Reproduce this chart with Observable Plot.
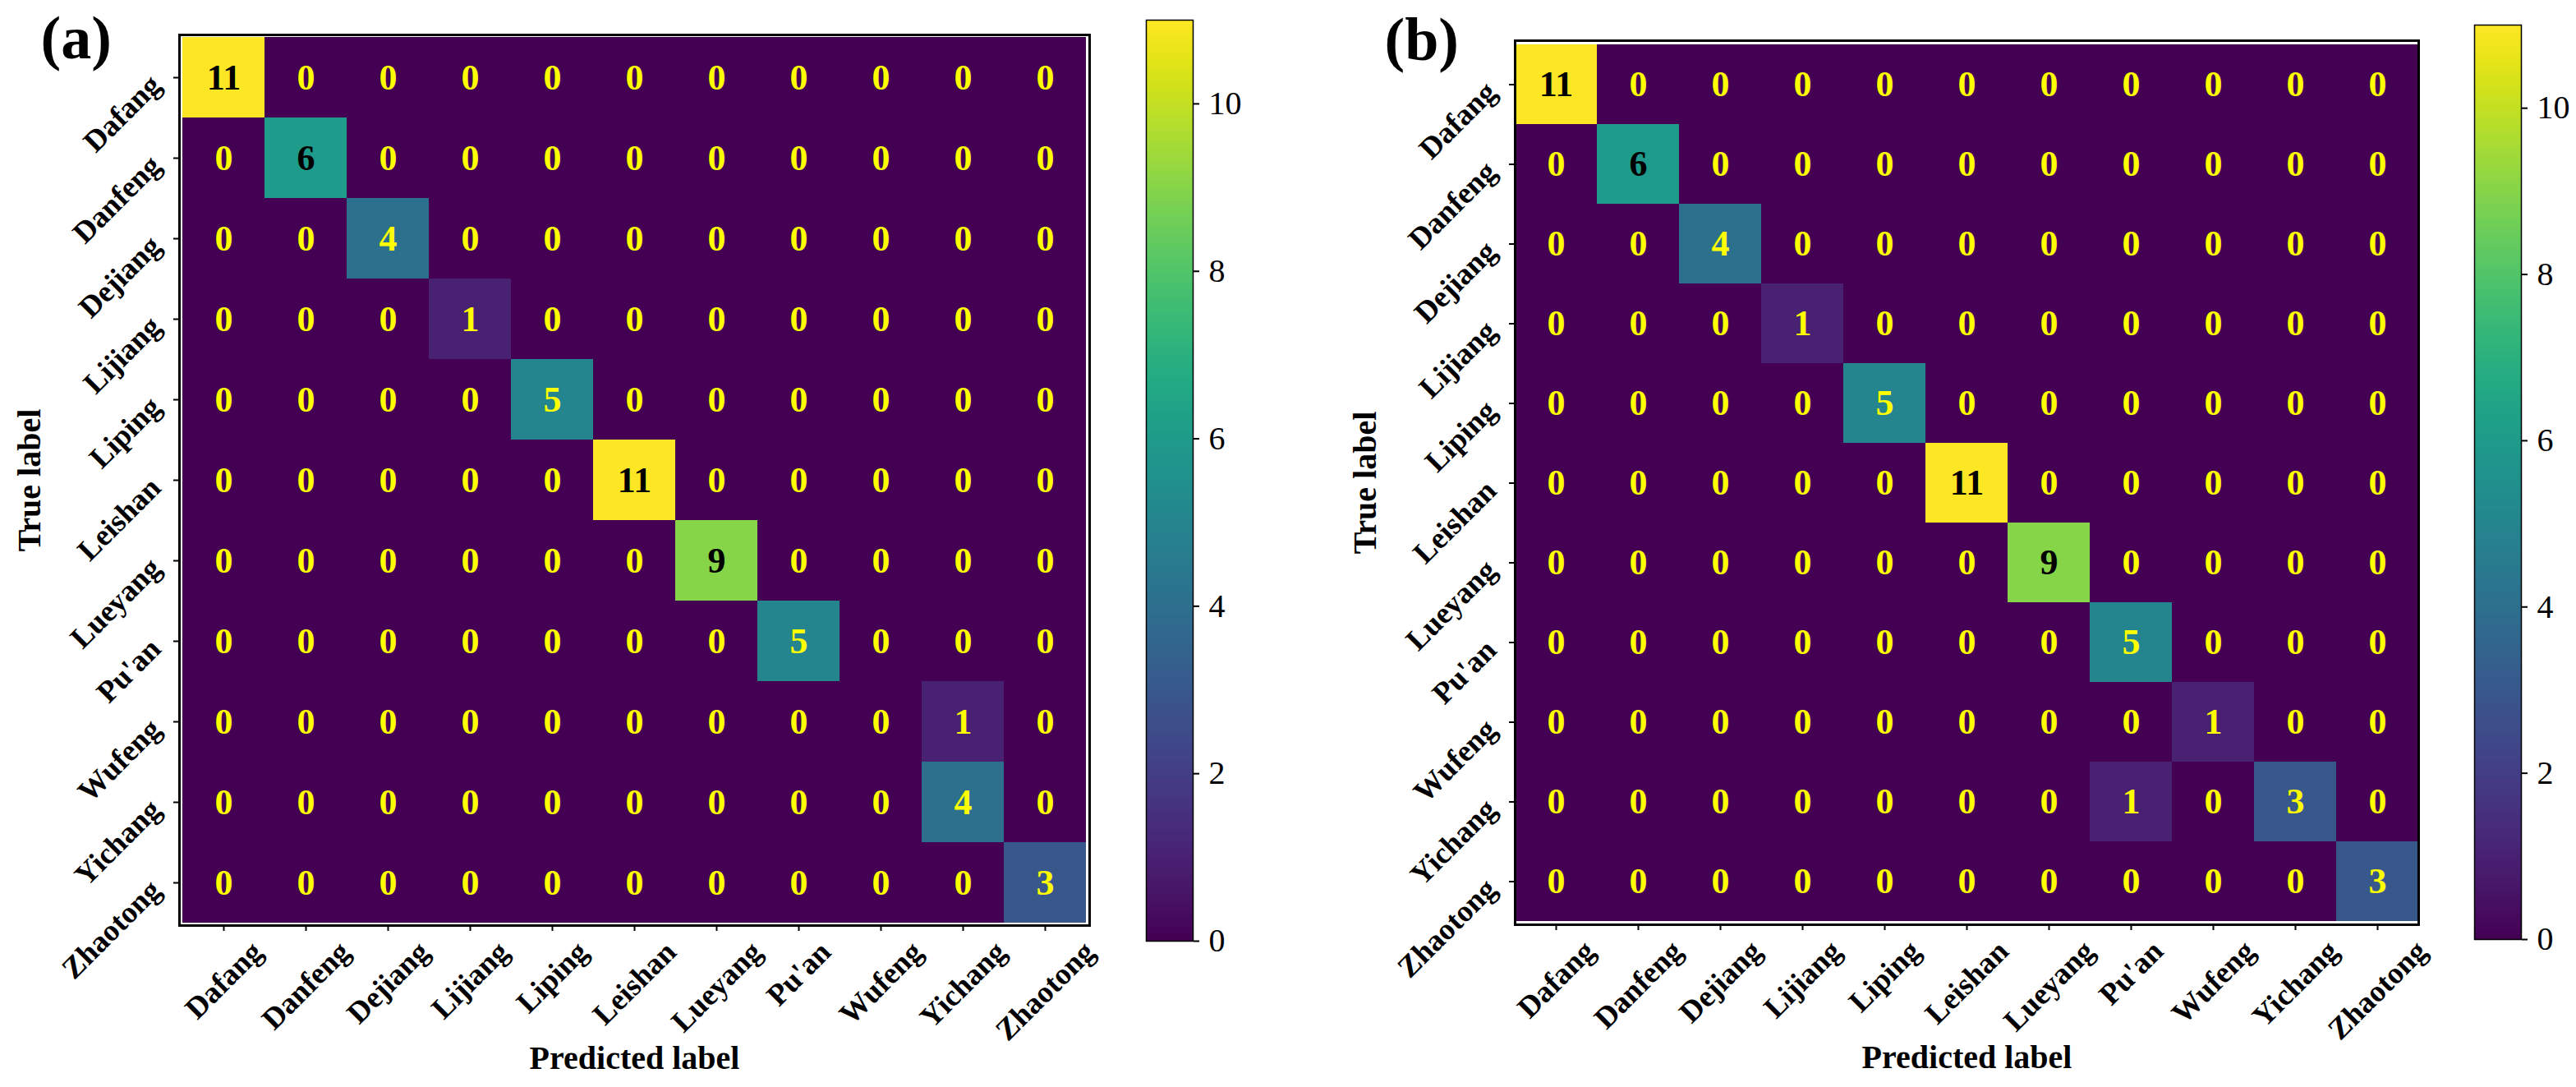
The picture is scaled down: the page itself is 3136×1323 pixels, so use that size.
<!DOCTYPE html>
<html><head><meta charset="utf-8">
<script src="https://cdn.jsdelivr.net/npm/d3@7"></script>
<script src="https://cdn.jsdelivr.net/npm/@observablehq/plot@0.6"></script>
<style>
html,body{margin:0;padding:0;background:#fff;}
#root{position:relative;width:3136px;height:1323px;overflow:hidden;background:#fff;}
#root > div{position:absolute;top:0;}
</style></head><body><div id="root"></div>
<script>
// ---- data ----
const labels = ["Dafang","Danfeng","Dejiang","Lijiang","Liping","Leishan","Lueyang","Pu'an","Wufeng","Yichang","Zhaotong"];
// rows = true label, columns = predicted label
const matrixA = [
  [11,0,0,0,0,0,0,0,0,0,0],
  [0,6,0,0,0,0,0,0,0,0,0],
  [0,0,4,0,0,0,0,0,0,0,0],
  [0,0,0,1,0,0,0,0,0,0,0],
  [0,0,0,0,5,0,0,0,0,0,0],
  [0,0,0,0,0,11,0,0,0,0,0],
  [0,0,0,0,0,0,9,0,0,0,0],
  [0,0,0,0,0,0,0,5,0,0,0],
  [0,0,0,0,0,0,0,0,0,1,0],
  [0,0,0,0,0,0,0,0,0,4,0],
  [0,0,0,0,0,0,0,0,0,0,3]
];
const matrixB = [
  [11,0,0,0,0,0,0,0,0,0,0],
  [0,6,0,0,0,0,0,0,0,0,0],
  [0,0,4,0,0,0,0,0,0,0,0],
  [0,0,0,1,0,0,0,0,0,0,0],
  [0,0,0,0,5,0,0,0,0,0,0],
  [0,0,0,0,0,11,0,0,0,0,0],
  [0,0,0,0,0,0,9,0,0,0,0],
  [0,0,0,0,0,0,0,5,0,0,0],
  [0,0,0,0,0,0,0,0,1,0,0],
  [0,0,0,0,0,0,0,1,0,3,0],
  [0,0,0,0,0,0,0,0,0,0,3]
];
const colorTicks = [0,2,4,6,8,10];
const colorMax = 11;
const panelNames = ["(a)","(b)"];
const xTitle = "Predicted label";
const yTitle = "True label";

// ---- helpers ----
const FONT = "'Liberation Serif','Times New Roman',serif";
const ctx = document.createElement("canvas").getContext("2d");
function textWidth(s, font){ ctx.font = font; return ctx.measureText(s).width; }
const colorScale = {type:"linear", scheme:"viridis", domain:[0, colorMax]};
const svgStyle = `font-family:${FONT};background:transparent;overflow:visible;max-width:none;`;

function heatmap(matrix, name, L){
  const cells = matrix.flatMap((row,i)=>row.map((v,j)=>({t:labels[i], p:labels[j], v})));
  const tf = 37;
  const xLabelMarks = labels.map(l => Plot.text([l], {
    x: d=>d, frameAnchor:"bottom", rotate:-45, textAnchor:"end", lineAnchor:"middle",
    dx: 0.3536*textWidth(l, `bold ${tf}px 'Liberation Serif'`), dy: 26,
    fontSize: tf, fontWeight:"bold", fill:"black"
  }));
  return Plot.plot({
    width: L.width, height: 1323,
    marginLeft: L.ml, marginRight: L.mr, marginTop: L.mt, marginBottom: L.mb,
    x: {domain: labels, padding: 0, axis: null},
    y: {domain: labels, padding: 0, axis: null},
    color: colorScale,
    style: svgStyle,
    marks: [
      Plot.cell(cells, {x:"p", y:"t", fill:"v", inset:0}),
      Plot.text(cells, {x:"p", y:"t", text:d=>String(d.v), filter:d=>d.v > colorMax/2, fill:"black", fontSize:44, fontWeight:"bold"}),
      Plot.text(cells, {x:"p", y:"t", text:d=>String(d.v), filter:d=>d.v <= colorMax/2, fill:"#ffff00", fontSize:44, fontWeight:"bold"}),
      Plot.frame({stroke:"black", strokeWidth:3}),
      Plot.axisX({tickSize:7, tickFormat:()=>"", label:null, strokeWidth:2}),
      Plot.axisY({tickSize:7, tickFormat:()=>"", label:null, strokeWidth:2}),
      ...xLabelMarks,
      Plot.text(labels, {y:d=>d, frameAnchor:"left", rotate:-45, textAnchor:"end", lineAnchor:"middle", dx:-29, dy:3, fontSize:tf, fontWeight:"bold", fill:"black"}),
      Plot.text([xTitle], {frameAnchor:"bottom", dy:174, lineAnchor:"bottom", fontSize:40, fontWeight:"bold", fill:"black"}),
      Plot.text([yTitle], {frameAnchor:"left", dx:-182, rotate:-90, textAnchor:"middle", lineAnchor:"middle", fontSize:40, fontWeight:"bold", fill:"black"}),
      Plot.text([name], {frameAnchor:"top-left", dx:L.pdx, dy:L.pdy, textAnchor:"start", lineAnchor:"bottom", fontSize:74, fontWeight:"bold", fill:"black"})
    ]
  });
}

function colorbar(L){
  return Plot.plot({
    width: L.width, height: 1323,
    marginLeft: L.ml, marginRight: L.mr, marginTop: L.mt, marginBottom: L.mb,
    x: {domain:[0,1], axis:null},
    y: {domain:[0,colorMax], axis:null},
    color: colorScale,
    style: svgStyle,
    marks: [
      Plot.raster({fill:(x,y)=>y, x1:0, x2:1, y1:0, y2:colorMax, width:1, height:1100}),
      Plot.frame({stroke:"black", strokeWidth:1.5}),
      Plot.axisY({anchor:"right", ticks:colorTicks, tickSize:7, tickPadding:12, fontSize:40, label:null, strokeWidth:2, fill:"black"})
    ]
  });
}

const root = document.getElementById("root");
function place(el, left, width){
  const d = document.createElement("div");
  d.style.left = left + "px"; d.style.width = width + "px";
  d.appendChild(el); root.appendChild(d);
}
place(heatmap(matrixA, panelNames[0], {width:1340, ml:218, mr:14, mt:42, mb:197, pdx:-169, pdy:28}), 0, 1340);
place(colorbar({width:200, ml:55, mr:88, mt:24, mb:178}), 1340, 200);
place(heatmap(matrixB, panelNames[1], {width:1400, ml:284, mr:16, mt:49, mb:198, pdx:-159, pdy:23}), 1560, 1400);
place(colorbar({width:176, ml:52, mr:67, mt:30, mb:180}), 2960, 176);
</script></body></html>
